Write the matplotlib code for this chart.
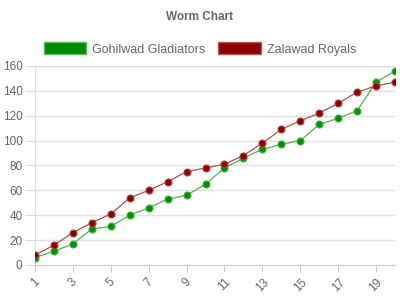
import numpy as np
import matplotlib.pyplot as plt
from matplotlib.patches import Rectangle

# datos
overs = list(range(1, 21))
gohilwad = [6, 11, 17, 29, 31, 40, 46, 53, 56, 65, 78, 86, 93, 97, 100, 113, 118, 124, 147, 156]
zalawad = [8, 16, 26, 34, 41, 54, 60, 67, 75, 78, 81, 88, 98, 109, 116, 122, 130, 139, 144, 147]
nombres = ["Gohilwad Gladiators", "Zalawad Royals"]
xticks = list(range(1, 20, 2))
yticks = list(range(0, 161, 20))

plt.rcParams['font.family'] = ['Liberation Sans', 'DejaVu Sans']
gris = "#666666"

fig = plt.figure(figsize=(4, 3), dpi=100)
ax = fig.add_axes([0.0875, 0.1167, 0.9, 0.6633])

ax.plot(overs, gohilwad, color="#55b055", lw=0.9, marker="o", ms=5,
        mfc="#009000", mec="#3fb03f", mew=0.8, zorder=3)
ax.plot(overs, zalawad, color="#b05050", lw=0.9, marker="o", ms=5,
        mfc="#8b0000", mec="#b04040", mew=0.8, zorder=3)

ax.set_xlim(1, 20)
ax.set_ylim(0, 160)
ax.set_xticks(xticks)
ax.set_yticks(yticks)
ax.set_xticklabels([str(t) for t in xticks], rotation=45, fontsize=8.5, color=gris)
ax.set_yticklabels([str(t) for t in yticks], fontsize=8.5, color=gris)
ax.tick_params(axis='y', length=7, color="#dddddd", pad=2)
ax.tick_params(axis='x', length=5, color="#cccccc", pad=3)
ax.grid(axis='y', color="#e0e0e0", lw=1)
ax.set_axisbelow(True)
for s in ["top", "right"]:
    ax.spines[s].set_visible(False)
ax.spines["left"].set_color("#dddddd")
ax.spines["bottom"].set_color("#cccccc")

fig.text(0.5, 0.943, "Worm Chart", ha="center", va="center", fontsize=8.5,
         fontweight="bold", color=gris)

handles = [Rectangle((0, 0), 1, 1, fc="#008800", ec="#55bb55", lw=1),
           Rectangle((0, 0), 1, 1, fc="#880000", ec="#bb5555", lw=1)]
leg = fig.legend(handles, nombres, loc="center", bbox_to_anchor=(0.5, 0.837),
                 ncol=2, frameon=False, fontsize=9, handlelength=3.4,
                 handleheight=1.1, handletextpad=0.5, columnspacing=1.0)
for t in leg.get_texts():
    t.set_color(gris)

fig.savefig("out.png", dpi=100)
